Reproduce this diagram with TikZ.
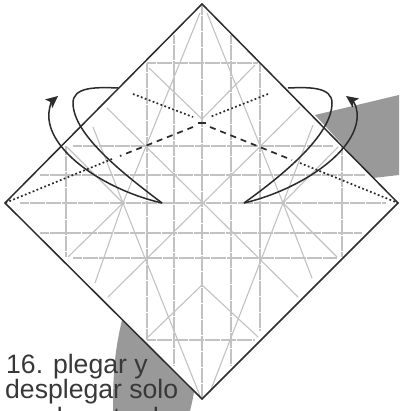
\documentclass[tikz,border=0pt]{standalone}
\usepackage{fontspec}
\setmainfont{Liberation Sans}
\usetikzlibrary{arrows.meta}
\definecolor{creasegray}{gray}{0.76}
\definecolor{shadowgray}{gray}{0.60}
\definecolor{ink}{gray}{0.17}
\definecolor{captionink}{gray}{0.22}
\tikzset{
 x=1pt,y=-1pt,
 creaseline/.style={draw=creasegray,line width=1.1pt},
 creasegrid/.style={draw=creasegray,line width=1.1pt,dash pattern=on 3pt off 0.2pt},
 edge/.style={draw=ink,line width=1.5pt,line join=miter},
 curveline/.style={draw=ink,line width=1.5pt},
 arrowline/.style={draw=ink,line width=1.5pt,-{Stealth[length=12pt,width=11pt,inset=2.5pt]}},
 valley/.style={draw=ink,line width=1.7pt,dash pattern=on 6pt off 5pt},
 dotline/.style={draw=ink,line width=1.7pt,dash pattern=on 1.8pt off 2.4pt},
 caption/.style={anchor=base west,inner sep=0pt,text=captionink,font=\fontsize{26.6}{28}\selectfont}
}
\begin{document}
\begin{tikzpicture}
\useasboundingbox (0,0) rectangle (399,411);
\fill[white] (0,0) rectangle (399,411);
\clip (0,0) rectangle (399,411);
% shadows
\fill[shadowgray] (315,115) -- (399,95) -- (399,175) -- (373,178) -- cycle;
\fill[shadowgray] (122,320) .. controls (115,350) and (113,370) .. (113,411) -- (190,411) .. controls (192,403) and (193,398) .. (194,392) -- cycle;
% corners
\coordinate (T) at (202,4);
\coordinate (L) at (5,203);
\coordinate (R) at (398,203);
\coordinate (B) at (202,399);
\fill[white] (T) -- (R) -- (B) -- (L) -- cycle;
% grid creases
\foreach \x/\a/\b in {202/6/397,174/35/365,147/63/340,66/146/257,231/35/365,260/63/331,342/146/257}
  \draw[creasegrid] (\x,\a) -- (\x,\b);
\foreach \y/\a/\b in {63/147/258,146/73/333,175/40/365,203/20/385,233/40/362,258/73/337,340/147/255}
  \draw[creasegrid] (\a,\y) -- (\b,\y);
% diagonal creases
\foreach \p/\q in {
 {(149,68)}/{(202,119)}, {(202,119)}/{(255,65)},
 {(107,108)}/{(298,297)}, {(300,107)}/{(108,297)},
 {(67,147)}/{(123,203)}, {(338,147)}/{(283,203)},
 {(123,203)}/{(68,257)}, {(283,203)}/{(337,257)},
 {(200,13)}/{(123,203)}, {(207,13)}/{(283,203)},
 {(123,203)}/{(200,396)}, {(283,203)}/{(210,392)},
 {(93,127)}/{(123,203)}, {(313,125)}/{(283,203)},
 {(123,203)}/{(95,283)}, {(283,203)}/{(312,278)},
 {(202,285)}/{(148,337)}, {(202,285)}/{(258,337)}}
  \draw[creaseline] \p -- \q;
% outline
\draw[edge] (T) -- (R) -- (B) -- (L) -- cycle;
% fold lines
\coordinate (C1) at (198,123);
\coordinate (C2) at (206,123);
\coordinate (DL) at (193,117);
\coordinate (DR) at (210,117);
\coordinate (VL) at (193,127);
\coordinate (VR) at (210,127);
\coordinate (LM) at (120,156);
\coordinate (LN) at (112,159);
\coordinate (RM) at (292,160);
\coordinate (RN) at (300,163);
\draw[dotline] (133,94) -- (DL);
\draw[dotline] (268,94) -- (DR);
\draw[draw=ink,line width=2pt] (C1) -- (C2);
\draw[valley] (VL) -- (LM);
\draw[valley] (VR) -- (RM);
\draw[dotline] (LN) -- (L);
\draw[dotline] (RN) -- (R);
% arrows
\coordinate (AL) at (162,203);
\coordinate (AR) at (244,203);
\coordinate (SL) at (118,88);
\coordinate (SR) at (288,88);
\draw[curveline] (AL) .. controls (125,175) and (73,135) .. (73,103) .. controls (73,87) and (95,87) .. (SL);
\draw[curveline] (AR) .. controls (283,175) and (332,135) .. (332,103) .. controls (332,87) and (310,87) .. (SR);
\draw[curveline] (AL) .. controls (105,190) and (45,150) .. (49,112);
\draw[curveline] (AR) .. controls (300,190) and (361,150) .. (357,112);
\draw[arrowline] (49,112) .. controls (49.5,106) and (52,101) .. (58,96);
\draw[arrowline] (357,112) .. controls (356.5,106) and (353,101) .. (346,96);
% caption
\node[caption] (l1) at (6,373) {16. plegar y};
\node[caption] (l2) at (5,398) {desplegar solo};
\node[caption] (l3) at (5,426) {en el centrado};
\end{tikzpicture}
\end{document}
